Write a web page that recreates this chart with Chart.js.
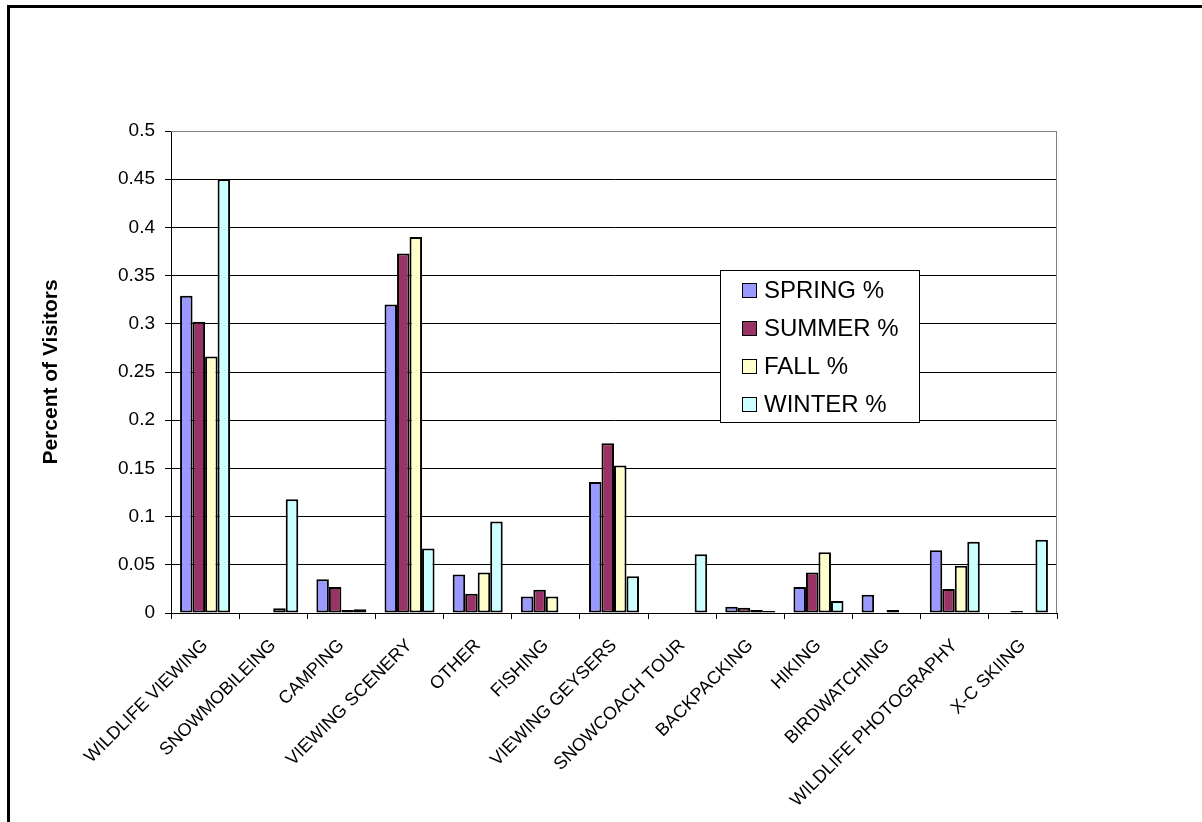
<!DOCTYPE html>
<html>
<head>
<meta charset="utf-8">
<script src="https://cdn.jsdelivr.net/npm/chart.js@4"></script>
<style>
  body { margin: 0; background: #fff; overflow: hidden; }
  #frame { position: absolute; left: 7px; top: 5px; width: 1300px; height: 1000px; border: 3px solid #000; }
  #wrap { position: absolute; left: 0; top: 0; width: 1202px; height: 822px; }
</style>
</head>
<body>
<div id="frame"></div>
<div id="wrap"><canvas id="visitorChart" width="1202" height="822"></canvas></div>
<script>
const categories = ['WILDLIFE VIEWING', 'SNOWMOBILEING', 'CAMPING', 'VIEWING SCENERY', 'OTHER', 'FISHING',
    'VIEWING GEYSERS', 'SNOWCOACH TOUR', 'BACKPACKING', 'HIKING', 'BIRDWATCHING', 'WILDLIFE PHOTOGRAPHY', 'X-C SKIING'];

// null = no bar drawn for that season
const spring = [0.329, null, 0.035, 0.320, 0.040, 0.017, 0.136, null, 0.0065, 0.027, 0.019, 0.065, null];
const summer = [0.302, null, 0.027, 0.373, 0.020, 0.024, 0.176, null, 0.0055, 0.042, null, 0.025, 0.002];
const fall   = [0.266, 0.005, 0.003, 0.390, 0.042, 0.017, 0.153, null, 0.003, 0.063, 0.003, 0.049, null];
const winter = [0.450, 0.118, 0.004, 0.067, 0.095, null, 0.038, 0.061, 0.002, 0.0125, null, 0.074, 0.076];

const seriesLabels = ['SPRING %', 'SUMMER %', 'FALL %', 'WINTER %'];
const seriesColors = ['#9999FF', '#993366', '#FFFFCC', '#CCFFFF'];

const FONT = '"Liberation Sans", Arial, sans-serif';

// gray plot border (top + right), like the Excel plot area
const plotBorder = {
    id: 'plotBorder',
    beforeDatasetsDraw(chart) {
        const a = chart.chartArea;
        const ctx = chart.ctx;
        ctx.save();
        ctx.strokeStyle = '#808080';
        ctx.lineWidth = 1;
        ctx.beginPath();
        ctx.moveTo(a.left, a.top + 0.5);
        ctx.lineTo(a.right - 0.5, a.top + 0.5);
        ctx.lineTo(a.right - 0.5, a.bottom);
        ctx.stroke();
        ctx.restore();
    }
};

// boxed legend sitting inside the plot
const boxLegend = {
    id: 'boxLegend',
    afterDraw(chart) {
        const ctx = chart.ctx;
        const x = 720, y = 270, w = 199, h = 152;
        ctx.save();
        ctx.fillStyle = '#fff';
        ctx.fillRect(x, y, w, h);
        ctx.strokeStyle = '#000';
        ctx.lineWidth = 1;
        ctx.strokeRect(x + 0.5, y + 0.5, w, h);
        ctx.font = '24px ' + FONT;
        ctx.textBaseline = 'middle';
        chart.data.datasets.forEach((ds, i) => {
            const cy = 290 + i * 38;
            ctx.fillStyle = ds.backgroundColor;
            ctx.fillRect(742, cy - 7, 15, 15);
            ctx.strokeStyle = '#000';
            ctx.strokeRect(742.5, cy - 6.5, 14, 14);
            ctx.fillStyle = '#000';
            ctx.fillText(ds.label, 764, cy + 1);
        });
        ctx.restore();
    }
};

const datasets = [spring, summer, fall, winter].map((values, i) => ({
    label: seriesLabels[i],
    data: values,
    backgroundColor: seriesColors[i],
    borderColor: '#000',
    borderWidth: 2,
    borderSkipped: false,
    barPercentage: 1.0,
    categoryPercentage: 0.734
}));

new Chart(document.getElementById('visitorChart'), {
    type: 'bar',
    data: { labels: categories, datasets: datasets },
    plugins: [plotBorder, boxLegend],
    options: {
        responsive: false,
        devicePixelRatio: 1,
        animation: false,
        layout: { padding: { top: 131, right: 145, left: 20, bottom: 0 } },
        plugins: {
            legend: { display: false },
            tooltip: { enabled: false }
        },
        scales: {
            x: {
                afterFit: (scale) => { scale.height = 209; },
                grid: { display: true, drawOnChartArea: false, offset: true, tickLength: 6, color: '#000' },
                border: { color: '#000', width: 1 },
                ticks: {
                    autoSkip: false,
                    maxRotation: 45,
                    minRotation: 45,
                    padding: 16,
                    color: '#000',
                    font: { family: FONT, size: 18 }
                }
            },
            y: {
                min: 0,
                max: 0.5,
                afterFit: (scale) => { scale.width = 151; },
                grid: {
                    color: (c) => (c.tick && c.tick.value >= 0.5 ? '#808080' : '#000'),
                    tickColor: '#000',
                    tickLength: 6
                },
                border: { color: '#000', width: 1 },
                ticks: {
                    stepSize: 0.05,
                    padding: 10,
                    color: '#000',
                    font: { family: FONT, size: 19 },
                    callback: (v) => String(+v.toFixed(2))
                },
                title: {
                    display: true,
                    text: 'Percent of Visitors',
                    color: '#000',
                    padding: { top: 19, bottom: 0 },
                    font: { family: FONT, size: 21, weight: 'bold' }
                }
            }
        }
    }
});
</script>
</body>
</html>
